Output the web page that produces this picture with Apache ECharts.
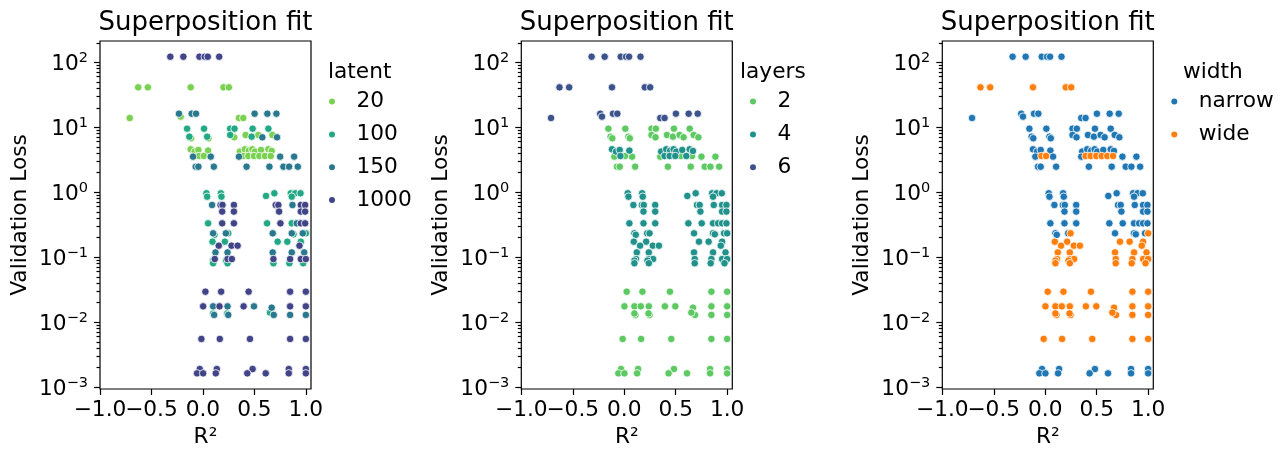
<!DOCTYPE html>
<html>
<head>
<meta charset="utf-8">
<title>Superposition fit</title>
<script src="https://cdn.jsdelivr.net/npm/echarts@6.0.0/dist/echarts.min.js"></script>
<style>
  html, body { margin: 0; padding: 0; background: #ffffff; }
  #chart { width: 1286px; height: 450px; }
</style>
</head>
<body>
<div id="chart"></div>
<script>
// ---- one entry per trained model (rows grouped by loss level) ----
const r2 = [
  -0.317, -0.190, -0.034, 0.018, 0.047, 0.158,
  -0.629, -0.535, -0.119, 0.200, 0.252,
  -0.233, -0.109, -0.067, 0.502, 0.626, 0.714,
  -0.711, -0.216, 0.350, 0.392,
  -0.154, 0.011, 0.265, 0.307, 0.483, 0.636,
  -0.132, -0.116, 0.041, 0.054, 0.265, 0.304, 0.415, 0.473, 0.538, 0.577, 0.675, 0.720,
  -0.119, -0.080, -0.044, 0.050, 0.359, 0.408, 0.447, 0.480, 0.506, 0.564, 0.636, 0.668,
  -0.096, 0.076, 0.350, 0.750, 0.886, -0.037, 0.008, 0.392, 0.441, 0.496, 0.548, 0.603, 0.659,
  -0.070, -0.044, 0.106, 0.424, 0.646, 0.782, 0.837, 0.922,
  0.034, 0.174, 0.613, 0.694, 0.854, 0.896, 0.948, 0.041, 0.180, 0.863,
  0.089, 0.171, 0.190, 0.301, 0.707, 0.733, 0.870, 0.951, 0.993,
  0.187, 0.301, 0.740, 0.951, 0.993,
  0.050, 0.187, 0.301, 0.623, 0.753, 0.863, 0.912, 0.951, 0.993,
  0.099, 0.223, 0.678, 0.863, 0.970, 0.112, 0.246, 0.880, 1.000,
  0.093, 0.213, 0.726, 0.820, 0.951,
  0.154, 0.278, 0.337, 0.938,
  0.122, 0.239, 0.678, 0.863, 0.984,
  0.115, 0.239, 0.281, 0.685, 0.847, 0.951, 1.000, 0.099, 0.226,
  0.099, 0.239, 0.685, 0.840, 0.974,
  0.024, 0.177, 0.444, 0.847, 1.000,
  0.002, 0.099, 0.161, 0.239, 0.395, 0.496, 0.847, 1.000, 0.668,
  0.109, 0.246, 0.688, 0.847, 1.000, 0.652, 0.099, 0.236,
  -0.015, 0.164, 0.457, 0.847, 1.000,
  -0.031, 0.135, 0.483, 0.834, 1.000,
  -0.057, 0.002, 0.125, 0.431, 0.610, 0.834, 1.000
];

const loss = [
  122, 122, 122, 122, 122, 122,
  41.2, 41.2, 41.2, 41.2, 41.2,
  16.2, 16.2, 16.2, 16.2, 16.2, 16.2,
  13.9, 14.6, 13.9, 13.9,
  9.53, 9.53, 9.53, 9.53, 9.53, 9.53,
  7.18, 6.78, 7.18, 6.78, 7.62, 7.02, 7.62, 7.18, 7.62, 7.02, 7.62, 7.02,
  4.59, 4.23, 4.48, 4.38, 4.23, 4.59, 4.38, 4.59, 4.23, 4.48, 4.59, 4.33,
  3.54, 3.54, 3.54, 3.54, 3.54, 3.62, 3.62, 3.62, 3.62, 3.62, 3.62, 3.62, 3.62,
  2.48, 2.48, 2.48, 2.48, 2.48, 2.48, 2.48, 2.48,
  0.966, 0.966, 0.879, 0.966, 0.966, 0.966, 0.966, 0.857, 0.857, 0.857,
  0.638, 0.638, 0.638, 0.638, 0.638, 0.638, 0.638, 0.638, 0.638,
  0.505, 0.505, 0.505, 0.505, 0.505,
  0.333, 0.333, 0.333, 0.333, 0.333, 0.333, 0.333, 0.333, 0.333,
  0.234, 0.234, 0.234, 0.234, 0.234, 0.222, 0.234, 0.226, 0.234,
  0.174, 0.174, 0.174, 0.174, 0.174,
  0.151, 0.151, 0.151, 0.151,
  0.119, 0.119, 0.119, 0.119, 0.119,
  0.094, 0.094, 0.094, 0.094, 0.094, 0.094, 0.094, 0.089, 0.089,
  0.081, 0.081, 0.081, 0.081, 0.081,
  0.0296, 0.0296, 0.0296, 0.0296, 0.0296,
  0.0176, 0.0176, 0.0176, 0.0176, 0.0176, 0.0176, 0.0176, 0.0176, 0.0168,
  0.0130, 0.0130, 0.0130, 0.0130, 0.0130, 0.0141, 0.0137, 0.0137,
  0.00555, 0.00555, 0.00555, 0.00555, 0.00555,
  0.00191, 0.00191, 0.00191, 0.00191, 0.00191,
  0.00164, 0.00164, 0.00164, 0.00164, 0.00164, 0.00164, 0.00164
];

const latent = [
  1000, 1000, 1000, 1000, 1000, 1000,
  20, 20, 20, 20, 20,
  150, 150, 150, 150, 150, 150,
  20, 20, 20, 20,
  100, 100, 100, 100, 100, 100,
  100, 20, 100, 20, 100, 20, 20, 100, 20, 150, 20, 150,
  20, 20, 20, 20, 20, 20, 20, 20, 20, 20, 20, 20,
  150, 150, 150, 150, 150, 20, 20, 20, 20, 20, 20, 20, 20,
  150, 150, 150, 150, 150, 150, 150, 150,
  100, 100, 100, 100, 100, 100, 100, 100, 100, 100,
  150, 1000, 1000, 1000, 1000, 1000, 150, 1000, 1000,
  1000, 1000, 1000, 1000, 1000,
  100, 1000, 1000, 100, 1000, 100, 150, 1000, 1000,
  150, 150, 150, 150, 150, 100, 100, 100, 100,
  100, 100, 100, 100, 100,
  1000, 1000, 1000, 1000,
  150, 150, 150, 150, 150,
  1000, 1000, 1000, 1000, 1000, 1000, 1000, 100, 100,
  100, 100, 100, 100, 100,
  1000, 1000, 1000, 1000, 1000,
  1000, 150, 1000, 150, 1000, 150, 1000, 1000, 150,
  150, 150, 150, 150, 150, 100, 100, 100,
  1000, 1000, 1000, 1000, 1000,
  1000, 1000, 1000, 1000, 1000,
  1000, 1000, 1000, 1000, 1000, 1000, 1000
];

const layers = [
  6, 6, 6, 6, 6, 6,
  6, 6, 6, 6, 6,
  6, 6, 6, 6, 6, 6,
  6, 6, 6, 6,
  2, 2, 2, 2, 2, 2,
  2, 2, 2, 2, 2, 2, 2, 2, 2, 2, 2, 2,
  4, 4, 4, 4, 4, 4, 4, 4, 4, 4, 4, 4,
  2, 2, 2, 2, 2, 4, 2, 4, 4, 4, 2, 4, 2,
  2, 2, 2, 2, 2, 2, 2, 2,
  4, 4, 4, 4, 4, 4, 4, 4, 4, 4,
  4, 4, 4, 4, 4, 4, 4, 4, 4,
  4, 4, 4, 4, 4,
  4, 4, 4, 4, 4, 4, 4, 4, 4,
  4, 4, 4, 4, 4, 4, 4, 4, 4,
  4, 4, 4, 4, 4,
  4, 4, 4, 4,
  4, 4, 4, 4, 4,
  4, 4, 4, 4, 4, 4, 4, 4, 4,
  4, 4, 4, 4, 4,
  2, 2, 2, 2, 2,
  2, 2, 2, 2, 2, 2, 2, 2, 2,
  2, 2, 2, 2, 2, 2, 2, 2,
  2, 2, 2, 2, 2,
  2, 2, 2, 2, 2,
  2, 2, 2, 2, 2, 2, 2
];

const width = [
  'narrow', 'narrow', 'narrow', 'narrow', 'narrow', 'narrow',
  'wide', 'wide', 'wide', 'wide', 'wide',
  'narrow', 'narrow', 'narrow', 'narrow', 'narrow', 'narrow',
  'narrow', 'narrow', 'narrow', 'narrow',
  'narrow', 'narrow', 'narrow', 'narrow', 'narrow', 'narrow',
  'narrow', 'narrow', 'narrow', 'narrow', 'narrow', 'narrow', 'narrow', 'narrow', 'narrow', 'narrow', 'narrow', 'narrow',
  'narrow', 'narrow', 'narrow', 'narrow', 'narrow', 'narrow', 'narrow', 'narrow', 'narrow', 'narrow', 'narrow', 'narrow',
  'narrow', 'narrow', 'narrow', 'narrow', 'narrow', 'wide', 'wide', 'wide', 'wide', 'wide', 'wide', 'wide', 'wide',
  'narrow', 'narrow', 'narrow', 'narrow', 'narrow', 'narrow', 'narrow', 'narrow',
  'narrow', 'narrow', 'narrow', 'narrow', 'narrow', 'narrow', 'narrow', 'narrow', 'narrow', 'narrow',
  'narrow', 'narrow', 'narrow', 'narrow', 'narrow', 'narrow', 'narrow', 'narrow', 'narrow',
  'narrow', 'narrow', 'narrow', 'narrow', 'narrow',
  'narrow', 'narrow', 'narrow', 'narrow', 'narrow', 'narrow', 'narrow', 'narrow', 'narrow',
  'narrow', 'narrow', 'narrow', 'narrow', 'narrow', 'narrow', 'wide', 'narrow', 'wide',
  'wide', 'wide', 'wide', 'wide', 'wide',
  'wide', 'wide', 'wide', 'wide',
  'wide', 'wide', 'wide', 'wide', 'wide',
  'wide', 'wide', 'wide', 'wide', 'wide', 'wide', 'wide', 'wide', 'wide',
  'wide', 'wide', 'wide', 'wide', 'wide',
  'wide', 'wide', 'wide', 'wide', 'wide',
  'wide', 'wide', 'wide', 'wide', 'wide', 'wide', 'wide', 'wide', 'wide',
  'wide', 'wide', 'wide', 'wide', 'wide', 'wide', 'wide', 'wide',
  'wide', 'wide', 'wide', 'wide', 'wide',
  'narrow', 'narrow', 'narrow', 'narrow', 'narrow',
  'narrow', 'narrow', 'narrow', 'narrow', 'narrow', 'narrow', 'narrow'
];

// ---- hue levels and axis ticks ----
const latentLevels = [20, 100, 150, 1000];
const layerLevels = [2, 4, 6];
const widthLevels = ['narrow', 'wide'];
const xTickValues = [-1, -0.5, 0, 0.5, 1];
const yDecadeValues = [0.001, 0.01, 0.1, 1, 10, 100];

// ---- layout and styling ----
const FONT = 'DejaVu Sans';
const FS = 21.7;
const GRID_TOP = 41, GRID_W = 211, GRID_H = 348;
const X_MIN = -1, X_MAX = 1.05;
const Y_MIN = 9.42e-4, Y_MAX = 212.8;

const panels = [
  { field: latent, levels: latentLevels, legendTitle: 'latent',
    colors: ['#7ad151', '#22a884', '#2a788e', '#414487'],
    gridLeft: 100, markerX: 332, legendTitleLeft: 328 },
  { field: layers, levels: layerLevels, legendTitle: 'layers',
    colors: ['#5ec962', '#21918c', '#3b528b'],
    gridLeft: 521.3, markerX: 753, legendTitleLeft: 740 },
  { field: width, levels: widthLevels, legendTitle: 'width',
    colors: ['#1f77b4', '#ff7f0e'],
    gridLeft: 942.3, markerX: 1174.3, legendTitleLeft: 1183 }
];

// minor ticks of the log axis: 2..9 times each decade
const minorY = [];
for (let e = -4; e <= 2; e++) {
  for (let k = 2; k <= 9; k++) {
    const v = k * Math.pow(10, e);
    if (v > Y_MIN && v < Y_MAX) minorY.push(v);
  }
}

const tickLine = { color: '#000', width: 1.2 };
const textBase = { fontFamily: FONT, fontSize: FS, color: '#000', fontWeight: 'normal' };
const ICON = 6;

function xLabel(v) {
  return (v < 0 ? '\u2212' : '') + Math.abs(v).toFixed(1);
}
function yLabel(v) {
  const e = Math.round(Math.log10(v));
  return '{b|10}{s|' + (e < 0 ? '\u2212' + (-e) : String(e)) + '}';
}

const grid = [], xAxis = [], yAxis = [], series = [], title = [], legend = [];
const xLabelStyle = { margin: 10, showMinLabel: true, showMaxLabel: true, hideOverlap: false,
                      formatter: xLabel, fontFamily: FONT, fontSize: FS, color: '#000' };

panels.forEach((p, i) => {
  grid.push({
    left: p.gridLeft, top: GRID_TOP, width: GRID_W, height: GRID_H,
    show: true, borderColor: '#000', borderWidth: 1.2, backgroundColor: 'transparent',
    containLabel: false, outerBoundsMode: 'none'
  });

  // main x axis: ticks, the labels from -0.5 upwards and the axis name
  xAxis.push({
    type: 'value', gridIndex: i, min: X_MIN, max: X_MAX, position: 'bottom',
    name: 'R\u00b2', nameLocation: 'middle', nameGap: 36.5,
    nameTextStyle: textBase,
    axisLine: { show: false, onZero: false },
    splitLine: { show: false },
    axisTick: { show: true, customValues: xTickValues, length: 6, lineStyle: tickLine },
    axisLabel: Object.assign({ customValues: xTickValues.slice(1) }, xLabelStyle)
  });
  // the leftmost label touches its neighbour, so it is carried by its own axis
  xAxis.push({
    type: 'value', gridIndex: i, min: X_MIN, max: X_MAX, position: 'bottom', offset: 0,
    axisLine: { show: false, onZero: false },
    splitLine: { show: false },
    axisTick: { show: false },
    axisLabel: Object.assign({ customValues: xTickValues.slice(0, 1) }, xLabelStyle)
  });

  // decades with labels
  yAxis.push({
    type: 'log', logBase: 10, gridIndex: i, min: Y_MIN, max: Y_MAX, position: 'left',
    name: 'Validation Loss', nameLocation: 'middle', nameGap: 68.8, nameRotate: 90,
    nameTextStyle: textBase,
    axisLine: { show: false, onZero: false },
    splitLine: { show: false },
    minorTick: { show: false },
    axisTick: { show: true, customValues: yDecadeValues, length: 6, lineStyle: tickLine },
    axisLabel: {
      customValues: yDecadeValues, formatter: yLabel, margin: 12,
      showMinLabel: true, showMaxLabel: true,
      rich: {
        b: { fontFamily: FONT, fontSize: FS, color: '#000', padding: [3.5, 0, 0, 0] },
        s: { fontFamily: FONT, fontSize: 14.5, color: '#000', verticalAlign: 'top', padding: [1, 0, 0, 0] }
      }
    }
  });
  // unlabelled minor ticks between decades, on the same left edge
  yAxis.push({
    type: 'log', logBase: 10, gridIndex: i, min: Y_MIN, max: Y_MAX,
    position: 'left', offset: 0,
    axisLine: { show: false, onZero: false },
    splitLine: { show: false },
    axisLabel: { show: false },
    axisTick: { show: true, customValues: minorY, length: 3.5, lineStyle: tickLine }
  });

  p.levels.forEach((lv, k) => {
    const pts = [];
    for (let j = 0; j < r2.length; j++) {
      if (p.field[j] === lv) pts.push([r2[j], loss[j]]);
    }
    series.push({
      type: 'scatter', name: String(lv), xAxisIndex: 2 * i, yAxisIndex: 2 * i,
      symbol: 'circle', symbolSize: 7.5,
      itemStyle: { color: p.colors[k], borderColor: '#ffffff', borderWidth: 0.8, opacity: 1 },
      emphasis: { disabled: true },
      data: pts
    });
  });

  title.push({
    text: 'Superposition fit', left: p.gridLeft + GRID_W / 2, top: 10.3,
    textAlign: 'center', padding: 0,
    textStyle: { fontFamily: FONT, fontSize: 26, fontWeight: 'normal', color: '#000' }
  });
  title.push({
    text: p.legendTitle, left: p.legendTitleLeft, top: 61.4, padding: 0,
    textStyle: textBase
  });

  legend.push({
    orient: 'vertical', left: p.markerX - ICON / 2, top: 90.6, padding: 0,
    itemWidth: ICON, itemHeight: ICON, itemGap: 10.8, icon: 'circle',
    selectedMode: false,
    data: p.levels.map(String),
    itemStyle: { borderWidth: 0 },
    formatter: name => '{g| }' + name,
    textStyle: {
      fontFamily: FONT, fontSize: FS, color: '#000',
      rich: { g: { width: 16.5, fontSize: FS, fontFamily: FONT } }
    }
  });
});

const chart = echarts.init(document.getElementById('chart'), null, { renderer: 'canvas' });
chart.setOption({
  animation: false,
  backgroundColor: '#ffffff',
  title, legend, grid, xAxis, yAxis, series
});
</script>
</body>
</html>
